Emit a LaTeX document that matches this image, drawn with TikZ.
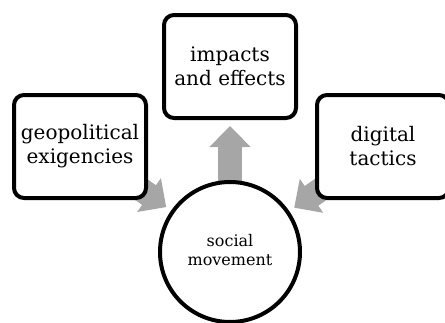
\documentclass[tikz,border=0pt]{standalone}
\usepackage{fontspec}
\setmainfont{DejaVu Serif}
\usetikzlibrary{arrows.meta,% block arrow heads
backgrounds}%                 arrows go behind the shapes
\tikzset{every node/.style={font=\fontsize{20pt}{24pt}\selectfont},
  topicbox/.style={draw, line width=4pt, rounded corners=10pt, fill=white,
    minimum width=132pt, minimum height=103pt, align=center},
  hubcircle/.style={draw, circle, line width=4pt, fill=white, minimum size=140pt,
    align=center},
  flowarrow/.style={line width=24pt, black!35,
    -{Triangle[length=21pt,width=40pt]}, shorten >=6pt}}
\newcommand{\hubtext}[1]{\scalebox{0.8}{\begin{tabular}{@{}c@{}}#1\end{tabular}}}

\begin{document}
\begin{tikzpicture}[x=1pt, y=1pt]
  \useasboundingbox (0,0) rectangle (445,-322);
  \node[topicbox] (geo) at (80,-146.5) {geopolitical\\exigencies};
  \node[topicbox] (impacts) at (230,-66.5) {impacts\\and effects};
  \node[topicbox] (digital) at (383,-146.5) {digital\\tactics};
  \node[hubcircle] (social) at (230,-252) {\hubtext{social\\movement}};
  \begin{scope}[on background layer]
    \draw[flowarrow] (geo.center) -- (social);
    \draw[flowarrow] (digital.center) -- (social);
    \draw[flowarrow] (social.center) -- (impacts);
  \end{scope}
\end{tikzpicture}
\end{document}
